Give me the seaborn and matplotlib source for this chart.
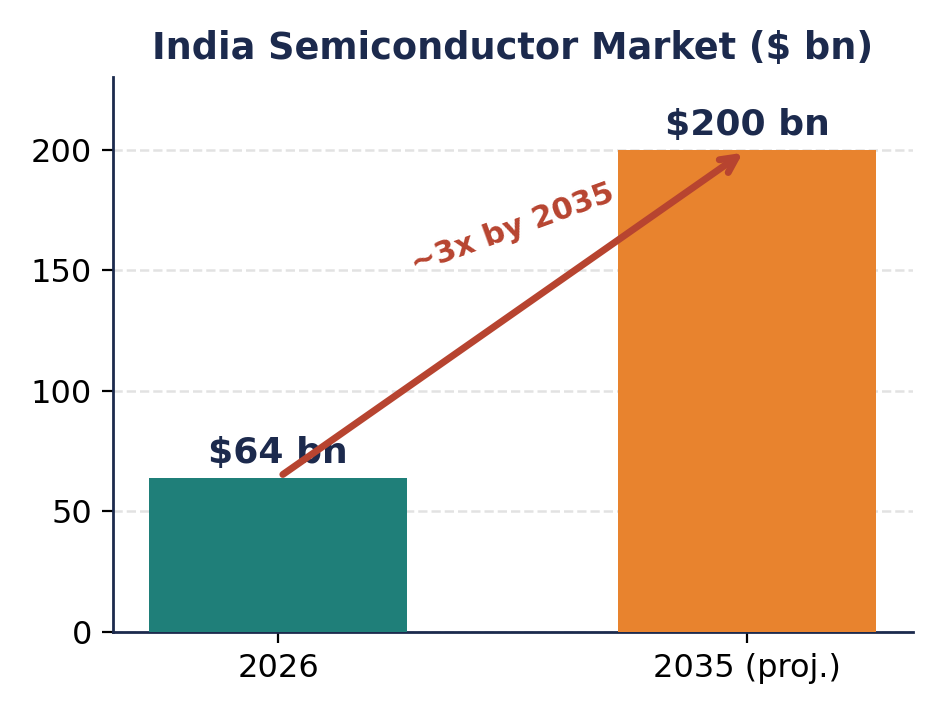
import matplotlib
matplotlib.use("Agg")
import matplotlib.pyplot as plt
import seaborn as sns
import pandas as pd

years = ["2026", "2035 (proj.)"]
market_bn = [64, 200]
bar_labels = ["$64 bn", "$200 bn"]
bar_colors = ["#1f7f79", "#e8832e"]

navy = "#1c2a4d"
arrow_red = "#b74430"

plt.rcParams['font.family'] = ['DejaVu Sans']
df = pd.DataFrame({"year": years, "value": market_bn})

fig, ax = plt.subplots(figsize=(4.705, 3.575), dpi=200)
fig.subplots_adjust(left=0.120, right=0.970, bottom=0.116, top=0.892)

sns.barplot(data=df, x="year", y="value", hue="year", palette=bar_colors,
            width=0.55, legend=False, saturation=1, ax=ax, zorder=3)

# same limits as plain matplotlib bars with 5% margins
half = 0.55 / 2
span = (len(years) - 1) + 2 * half
ax.set_xlim(-half - 0.05 * span, len(years) - 1 + half + 0.05 * span)
ax.set_ylim(0, 230)
ax.set_yticks([0, 50, 100, 150, 200])

ax.grid(axis="y", linestyle="--", color="#e2e2e2", linewidth=0.9, zorder=0)
ax.set_axisbelow(True)
ax.set_xlabel("")
ax.set_ylabel("")
ax.tick_params(labelsize=11.5, length=4)

for s in ["top", "right"]:
    ax.spines[s].set_visible(False)
for s in ["left", "bottom"]:
    ax.spines[s].set_color(navy)
    ax.spines[s].set_linewidth(1.0)

for i, (v, lab) in enumerate(zip(market_bn, bar_labels)):
    ax.text(i, v + 3, lab, ha="center", va="bottom", fontsize=13,
            fontweight="bold", color=navy)

ax.annotate("", xy=(1, market_bn[1]), xytext=(0, market_bn[0]),
            arrowprops=dict(arrowstyle="->", color=arrow_red, lw=2.5,
                            mutation_scale=14), zorder=5)
ax.text(0.5, 167, "~3x by 2035", rotation=20, ha="center", va="center",
        fontsize=11, fontweight="bold", color=arrow_red, zorder=5)

ax.set_title("India Semiconductor Market ($ bn)", fontsize=13.2,
             fontweight="bold", color=navy, pad=6.5)

fig.savefig("out.png", dpi=200)
